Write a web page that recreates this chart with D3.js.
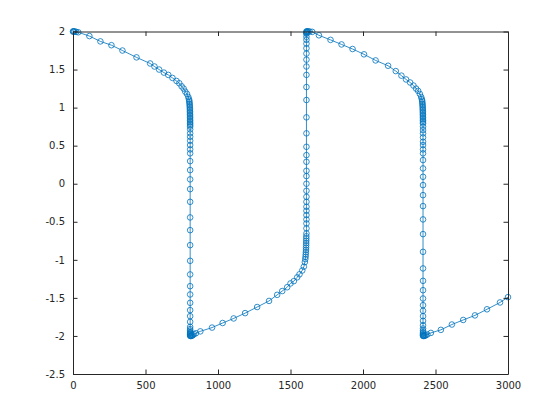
<!DOCTYPE html>
<html>
<head>
<meta charset="utf-8">
<script src="https://d3js.org/d3.v7.min.js"></script>
<style>
  body { margin: 0; background: #fff; }
  text { font-family: "DejaVu Sans", sans-serif; font-size: 10px; fill: #262626; }
</style>
</head>
<body>
<svg width="560" height="420"></svg>
<script>
// solver output, [t, y] pairs, one array per phase
const slow1 = [[0,2.0],[2,2.0],[6,2.0],[12,2.0],[22,1.995],[36,1.99],[113,1.94],[189,1.87],[265,1.82],[341,1.75],[438,1.66],[532,1.58],[562,1.54],[594,1.50],[627,1.46],[657,1.43],[686,1.39],[714,1.35],[733,1.32],[749,1.28],[763,1.25],[774,1.21],[786,1.18],[795,1.14],[800,1.11]];
const knee1 = [[802,1.09],[803,1.07],[804,1.05],[805,1.03],[805.5,1.01],[806,0.99],[806.3,0.97],[806.6,0.95],[806.8,0.93],[807,0.91],[807.2,0.89],[807.4,0.87],[807.5,0.85],[807.6,0.83],[807.7,0.81],[807.8,0.79],[807.9,0.77],[808,0.75]];
const drop1 = [0.714,0.662,0.617,0.565,0.508,0.451,0.399,0.297,0.179,0.057,-0.071,-0.238,-0.443,-0.610,-0.807,-1.013,-1.192,-1.346,-1.455,-1.565,-1.661,-1.740,-1.815,-1.881,-1.91,-1.93,-1.95,-1.96,-1.97,-1.98,-1.99,-2.0];
const slow2 = [[812,-2.0],[816,-2.0],[821,-1.995],[827,-1.99],[835,-1.975],[848,-1.965],[878,-1.94],[959,-1.89],[1032,-1.83],[1108,-1.77],[1187,-1.70],[1270,-1.62],[1352,-1.54],[1408,-1.46],[1443,-1.41],[1477,-1.36],[1500,-1.31],[1523,-1.28],[1546,-1.23],[1562,-1.19],[1581,-1.14],[1592,-1.09],[1599,-1.03]];
const knee2 = [[1602,-0.99],[1604,-0.96],[1605,-0.93],[1606,-0.90],[1607,-0.87],[1607.5,-0.84],[1608,-0.81],[1608.3,-0.78],[1608.6,-0.75],[1608.8,-0.72],[1609,-0.69]];
const rise2 = [-0.653,-0.587,-0.522,-0.469,-0.412,-0.356,-0.303,-0.238,-0.172,-0.093,0.0,0.100,0.170,0.288,0.376,0.485,0.662,0.872,1.10,1.27,1.43,1.54,1.63,1.71,1.78,1.84,1.89,1.93,1.97,1.98,1.99,2.0];
const slow3 = [[1613,2.0],[1617,2.0],[1623,2.0],[1632,2.0],[1650,1.995],[1696,1.95],[1776,1.89],[1852,1.83],[1928,1.77],[2007,1.70],[2087,1.62],[2173,1.55],[2226,1.48],[2265,1.42],[2297,1.37],[2325,1.33],[2348,1.29],[2366,1.25],[2380,1.22],[2392,1.18],[2401,1.14],[2406,1.11]];
const knee3 = [[2408,1.09],[2409,1.07],[2410,1.05],[2411,1.03],[2411.5,1.01],[2412,0.99],[2412.3,0.97],[2412.6,0.95],[2412.8,0.93],[2413,0.91],[2413.2,0.89],[2413.4,0.87],[2413.5,0.85],[2413.6,0.83],[2413.7,0.81],[2413.8,0.79]];
const drop3 = [0.749,0.705,0.662,0.609,0.551,0.508,0.451,0.399,0.311,0.201,0.091,-0.018,-0.150,-0.294,-0.469,-0.662,-0.895,-1.113,-1.276,-1.399,-1.508,-1.596,-1.670,-1.740,-1.802,-1.859,-1.902,-1.93,-1.95,-1.965,-1.98,-1.99,-2.0];
const slow4 = [[2418,-2.0],[2422,-2.0],[2427,-1.995],[2434,-1.99],[2444,-1.98],[2468,-1.96],[2537,-1.92],[2613,-1.85],[2691,-1.79],[2772,-1.73],[2855,-1.65],[2945,-1.56],[3000,-1.49]];

const xTicks = [0, 500, 1000, 1500, 2000, 2500, 3000];
const yTicks = [-2.5, -2, -1.5, -1, -0.5, 0, 0.5, 1, 1.5, 2];

// the fast jumps happen at a near fixed t
const dropT1 = 808, riseT2 = 1610, dropT3 = 2414;
const data = [].concat(
  slow1, knee1, drop1.map(v => [dropT1, v]),
  slow2, knee2, rise2.map(v => [riseT2, v]),
  slow3, knee3, drop3.map(v => [dropT3, v]),
  slow4
);

const margin = {top: 31.5, right: 52, bottom: 46, left: 73};
const width = 560 - margin.left - margin.right;
const height = 420 - margin.top - margin.bottom;
const color = '#0072BD';

const x = d3.scaleLinear().domain([0, 3000]).range([0, width]);
const y = d3.scaleLinear().domain([-2.5, 2]).range([height, 0]);

const svg = d3.select('svg');
const chart = svg.append('g')
  .attr('transform', 'translate(' + margin.left + ',' + margin.top + ')');

const line = d3.line().x(d => x(d[0])).y(d => y(d[1]));
chart.append('path')
  .datum(data)
  .attr('fill', 'none')
  .attr('stroke', color)
  .attr('stroke-width', 0.8)
  .attr('d', line);

chart.selectAll('circle')
  .data(data).enter()
  .append('circle')
  .attr('cx', d => x(d[0]))
  .attr('cy', d => y(d[1]))
  .attr('r', 2.8)
  .attr('fill', 'none')
  .attr('stroke', color)
  .attr('stroke-width', 0.8);

// axes with inward ticks, box all round
const tk = 4.5;
const xAxis = d3.axisBottom(x).tickValues(xTicks).tickSizeInner(-tk).tickSizeOuter(0).tickPadding(8).tickFormat(d => d);
const yAxis = d3.axisLeft(y).tickValues(yTicks).tickSizeInner(-tk).tickSizeOuter(0).tickPadding(8).tickFormat(d => d);
const xTop = d3.axisTop(x).tickValues(xTicks).tickSizeInner(-tk).tickSizeOuter(0).tickFormat('');
const yRight = d3.axisRight(y).tickValues(yTicks).tickSizeInner(-tk).tickSizeOuter(0).tickFormat('');

chart.append('g').attr('transform', 'translate(0,' + height + ')').call(xAxis);
chart.append('g').call(yAxis);
chart.append('g').call(xTop);
chart.append('g').attr('transform', 'translate(' + width + ',0)').call(yRight);

chart.selectAll('.domain').attr('stroke', '#262626');
chart.selectAll('.tick line').attr('stroke', '#262626');
chart.selectAll('.tick text').style('font-family', '"DejaVu Sans", sans-serif').style('font-size', '10px').attr('fill', '#262626');
</script>
</body>
</html>
